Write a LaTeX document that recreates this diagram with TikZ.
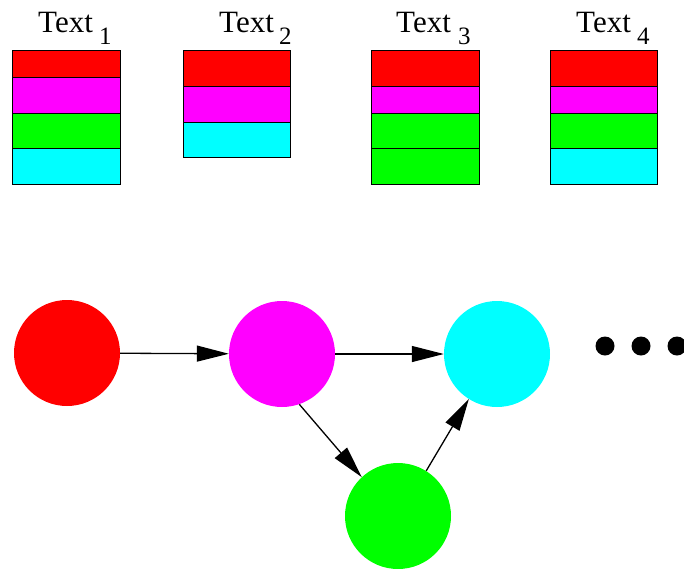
\documentclass[tikz,border=0pt]{standalone}
\usepackage{fontspec}
\setmainfont{Liberation Serif}
\usetikzlibrary{arrows.meta}
\begin{document}
\begin{tikzpicture}[x=1pt,y=-1pt,
  band/.style={draw=black,line width=0.8pt},
  circ/.style={circle,inner sep=0pt,minimum size=106pt,draw=none},
  dot/.style={circle,inner sep=0pt,minimum size=19pt,fill=black,draw=none},
  arr/.style={line width=1.3pt,-{Triangle[length=32pt,width=16pt]}},
  lbl/.style={anchor=base west,inner sep=0pt,font=\fontsize{31}{31}\selectfont},
  sub/.style={anchor=base west,inner sep=0pt,font=\fontsize{25}{25}\selectfont}]
\useasboundingbox (0,0) rectangle (684,568);
\definecolor{cR}{RGB}{255,0,0}
\definecolor{cM}{RGB}{255,0,255}
\definecolor{cG}{RGB}{0,255,0}
\definecolor{cC}{RGB}{0,255,255}
% labels
\node[lbl] (t1) at (38,32) {Text};
\node[sub] (s1) at (99,44) {1};
\node[lbl] (t2) at (219,32) {Text};
\node[sub] (s2) at (279,44) {2};
\node[lbl] (t3) at (396,32) {Text};
\node[sub] (s3) at (458,44) {3};
\node[lbl] (t4) at (576,32) {Text};
\node[sub] (s4) at (637,44) {4};
% stack 1
\draw[band,fill=cR] (12,50) rectangle (120,77);
\draw[band,fill=cM] (12,77) rectangle (120,113);
\draw[band,fill=cG] (12,113) rectangle (120,148);
\draw[band,fill=cC] (12,148) rectangle (120,184);
% stack 2
\draw[band,fill=cR] (183,50) rectangle (290,86);
\draw[band,fill=cM] (183,86) rectangle (290,122);
\draw[band,fill=cC] (183,122) rectangle (290,157);
% stack 3
\draw[band,fill=cR] (371,50) rectangle (479,86);
\draw[band,fill=cM] (371,86) rectangle (479,113);
\draw[band,fill=cG] (371,113) rectangle (479,148);
\draw[band,fill=cG] (371,148) rectangle (479,184);
% stack 4
\draw[band,fill=cR] (550,50) rectangle (657,86);
\draw[band,fill=cM] (550,86) rectangle (657,113);
\draw[band,fill=cG] (550,113) rectangle (657,148);
\draw[band,fill=cC] (550,148) rectangle (657,184);
% graph
\node[circ,fill=cR] (a) at (67,353) {};
\node[circ,fill=cM] (b) at (282,354) {};
\node[circ,fill=cC] (c) at (497,354) {};
\node[circ,fill=cG] (d) at (398,516) {};
\node[dot] (e1) at (605,346) {};
\node[dot] (e2) at (641,346) {};
\node[dot] (e3) at (677,346) {};
\draw[arr] (a) -- (b);
\draw[arr] (b) -- (c);
\draw[arr] (b.-71) -- (d.133);
\draw[arr] (d.58) -- (c.238);
\end{tikzpicture}
\end{document}
